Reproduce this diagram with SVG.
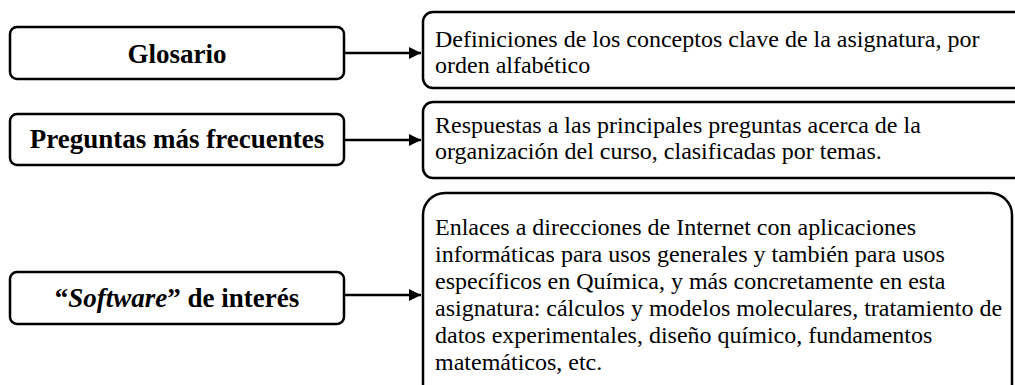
<svg xmlns="http://www.w3.org/2000/svg" width="1015" height="385" viewBox="0 0 1015 385">
<style>
.box{fill:#fff;stroke:#000;stroke-width:2.5}
.lbl{font-family:"Liberation Serif","Times New Roman",serif;font-weight:bold;font-size:27px;text-anchor:middle;fill:#000}
.txt{font-family:"Liberation Serif","Times New Roman",serif;font-size:24px;fill:#000}
.conn{stroke:#000;stroke-width:2.5;fill:none}
</style>
<defs>
<marker id="arr" viewBox="0 0 10 10" refX="10" refY="5" markerWidth="5" markerHeight="5" markerUnits="strokeWidth" orient="auto">
<path d="M0,0 L10,5 L0,10 Z" fill="#000"/>
</marker>
</defs>
<rect width="1015" height="385" fill="#fff"/>
<g id="connectors">
<line class="conn" x1="344" y1="53" x2="421" y2="53" marker-end="url(#arr)"/>
<line class="conn" x1="344" y1="140" x2="421" y2="140" marker-end="url(#arr)"/>
<line class="conn" x1="344" y1="295" x2="421" y2="295" marker-end="url(#arr)"/>
</g>
<g id="glosario">
<rect class="box" x="10" y="27" width="334" height="52" rx="7"/>
<text class="lbl" x="177" y="63">Glosario</text>
</g>
<g id="preguntas">
<rect class="box" x="10" y="114" width="334" height="51" rx="7"/>
<text class="lbl" x="177" y="148">Preguntas más frecuentes</text>
</g>
<g id="software">
<rect class="box" x="10" y="272" width="334" height="52" rx="7"/>
<text class="lbl" x="177" y="307">“<tspan font-style="italic">Software</tspan>” de interés</text>
</g>
<g id="def-glosario">
<rect class="box" x="423" y="12" width="610" height="76" rx="10"/>
<text class="txt" x="435" y="47">Definiciones de los conceptos clave de la asignatura, por</text>
<text class="txt" x="435" y="73">orden alfabético</text>
</g>
<g id="def-preguntas">
<rect class="box" x="423" y="102" width="610" height="76" rx="10"/>
<text class="txt" x="435" y="133">Respuestas a las principales preguntas acerca de la</text>
<text class="txt" x="435" y="159">organización del curso, clasificadas por temas.</text>
</g>
<g id="def-software">
<rect class="box" x="423" y="193" width="589" height="215" rx="22"/>
<text class="txt" x="435" y="235">Enlaces a direcciones de Internet con aplicaciones</text>
<text class="txt" x="435" y="262">informáticas para usos generales y también para usos</text>
<text class="txt" x="435" y="289">específicos en Química, y más concretamente en esta</text>
<text class="txt" x="435" y="316">asignatura: cálculos y modelos moleculares, tratamiento de</text>
<text class="txt" x="435" y="343">datos experimentales, diseño químico, fundamentos</text>
<text class="txt" x="435" y="370">matemáticos, etc.</text>
</g>
</svg>
